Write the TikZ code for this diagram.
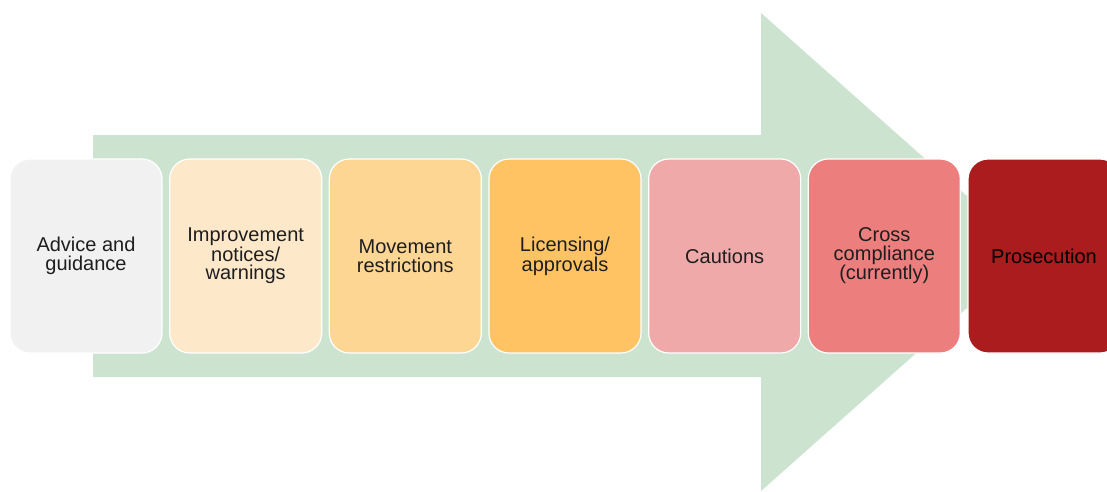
\documentclass[tikz,border=0pt]{standalone}
\usepackage{fontspec}
\setmainfont{Liberation Sans}
\definecolor{arrowgreen}{HTML}{CCE3CF}
\definecolor{cA}{HTML}{F1F1F1}
\definecolor{cB}{HTML}{FEE8CA}
\definecolor{cC}{HTML}{FED694}
\definecolor{cD}{HTML}{FFC363}
\definecolor{cE}{HTML}{F0A9A9}
\definecolor{cF}{HTML}{EC7E7E}
\definecolor{cG}{HTML}{AB1C1E}
\definecolor{txt}{HTML}{1E1E1E}
\tikzset{
  stage/.style={draw=white, line width=1.2pt, rounded corners=20pt,
    minimum width=152pt, minimum height=194pt, inner sep=2pt,
    align=center, text=txt, font=\fontsize{20pt}{18.5pt}\selectfont}
}
\begin{document}
\begin{tikzpicture}[x=1pt,y=-1pt]
\useasboundingbox (0,0) rectangle (1107,491);
\clip (0,0) rectangle (1107,491);
% background block arrow
\fill[arrowgreen] (93,135) -- (761,135) -- (761,13) -- (1030,252)
  -- (761,491) -- (761,377) -- (93,377) -- cycle;
% stages
\node[stage, fill=cA] (s1) at (86,256) {Advice and\\guidance};
\node[stage, fill=cB] (s2) at (245.7,256) {Improvement\\notices/\\warnings};
\node[stage, fill=cC] (s3) at (405.3,256) {Movement\\restrictions};
\node[stage, fill=cD] (s4) at (565,256) {Licensing/\\approvals};
\node[stage, fill=cE] (s5) at (724.7,256) {Cautions};
\node[stage, fill=cF] (s6) at (884.3,256) {Cross\\compliance\\(currently)};
\node[stage, fill=cG, text=black] (s7) at (1044,256) {Prosecution};
\end{tikzpicture}
\end{document}
